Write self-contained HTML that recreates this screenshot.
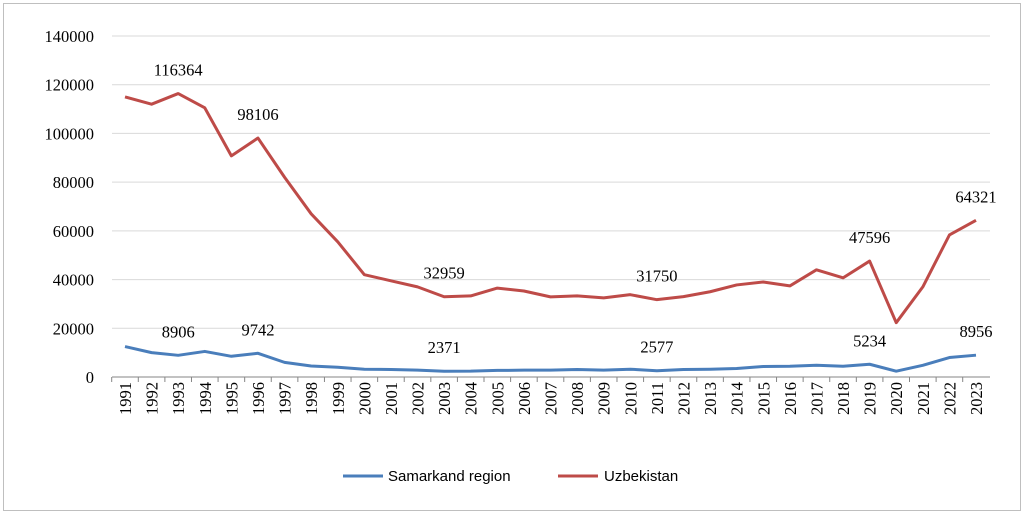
<!DOCTYPE html>
<html><head><meta charset="utf-8"><style>
body{margin:0;background:#fff}
svg{display:block;font-family:"Liberation Serif",serif}
</style></head><body>
<svg id="chart" width="1025" height="517" viewBox="0 0 1025 517">
<rect x="3.5" y="3.5" width="1017" height="507" fill="#fff" stroke="#bfbfbf"/>
<g id="grid"></g><g id="axes"></g><g id="series"></g><g id="labels"></g>
<g font-family="Liberation Sans, sans-serif" font-size="15">
<line x1="343" y1="476" x2="383" y2="476" stroke="#4a7ebb" stroke-width="3"/>
<text x="388" y="481">Samarkand region</text>
<line x1="558" y1="476" x2="598" y2="476" stroke="#be4b48" stroke-width="3"/>
<text x="604" y="481">Uzbekistan</text>
</g>
</svg>
<script>
const years=[1991,1992,1993,1994,1995,1996,1997,1998,1999,2000,2001,2002,2003,2004,2005,2006,2007,2008,2009,2010,2011,2012,2013,2014,2015,2016,2017,2018,2019,2020,2021,2022,2023];
const uzbekistan=[115000,112000,116364,110500,90800,98106,82000,67000,55500,42000,39500,37000,32959,33300,36500,35300,32900,33300,32500,33800,31750,33000,35000,37800,39000,37400,44000,40700,47596,22300,37000,58300,64321];
const samarkand=[12500,10000,8906,10500,8500,9742,6000,4500,4000,3200,3100,2800,2371,2400,2700,2800,2800,3100,2800,3200,2577,3100,3200,3500,4300,4400,4800,4400,5234,2400,4800,8000,8956];
const yTicks=[0,20000,40000,60000,80000,100000,120000,140000];
const labeledIdx=[2,5,12,20,28,32];
const NS="http://www.w3.org/2000/svg";
const x0=125,x1=976,yb=377,yt=36,ymax=140000;
const xs=i=>x0+(x1-x0)*i/(years.length-1);
const ys=v=>yb-(yb-yt)*v/ymax;
function mk(t,a,p){const e=document.createElementNS(NS,t);for(const k in a)e.setAttribute(k,a[k]);p.appendChild(e);return e;}
const grid=document.getElementById('grid'),axes=document.getElementById('axes'),ser=document.getElementById('series'),lab=document.getElementById('labels');
yTicks.forEach(v=>{
 const l=mk('line',{x1:112,x2:990,y1:ys(v),y2:ys(v),stroke:v===0?'#868686':'#d9d9d9'},grid);
 
 
 const t=mk('text',{x:94,y:ys(v)+6,'text-anchor':'end','font-size':16.5},axes);
 t.textContent=v;
 
 
});
years.forEach((y,i)=>{
 const tk=mk('line',{x1:xs(i)-13.3,x2:xs(i)-13.3,y1:yb,y2:yb+5,stroke:'#868686'},axes);
 
 
 const t=mk('text',{transform:`translate(${xs(i)+6},${yb+5}) rotate(-90)`,'text-anchor':'end','font-size':16.5},axes);
 t.textContent=y;
 
 
});
function line(data,color,name){
 const p=mk('polyline',{points:data.map((v,i)=>xs(i)+','+ys(v)).join(' '),fill:'none',stroke:color,'stroke-width':3,'stroke-linejoin':'round'},ser);
 
 
 labeledIdx.forEach(i=>{
  const t=mk('text',{x:xs(i),y:ys(data[i])-18,'text-anchor':'middle','font-size':16.5},lab);
  t.textContent=data[i];
  
  
 });
}
line(uzbekistan,'#be4b48','uzbekistan-line');
line(samarkand,'#4a7ebb','samarkand-line');
</script>
</body></html>
